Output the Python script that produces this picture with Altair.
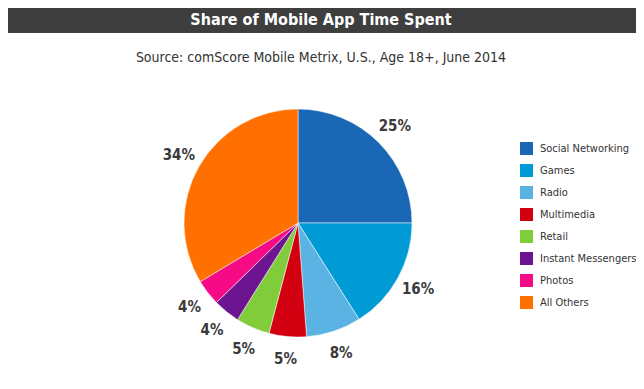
import altair as alt
import pandas as pd

categories = ["Social Networking", "Games", "Radio", "Multimedia", "Retail",
              "Instant Messengers", "Photos", "All Others"]
shares = [25.0, 16.0, 7.8, 5.3, 4.8, 3.8, 3.7, 33.6]
labels = ["25%", "16%", "8%", "5%", "5%", "4%", "4%", "34%"]
colors = ["#1a67b5", "#009ad4", "#5ab3e2", "#d20010", "#80cc3a",
          "#6d1591", "#f70a85", "#ff7000"]

title_text = "Share of Mobile App Time Spent"
subtitle_text = "Source: comScore Mobile Metrix, U.S., Age 18+, June 2014"

FONT = "DejaVu Sans Condensed, Roboto, sans-serif"

df = pd.DataFrame({
    "category": categories,
    "share": shares,
    "label": labels,
    "order": list(range(len(categories))),
})

W, H = 628, 373
cx, cy = 290, 215

base = alt.Chart(df).encode(
    theta=alt.Theta("share:Q", stack=True),
    order=alt.Order("order:Q"),
)

color_enc = alt.Color(
    "category:N",
    scale=alt.Scale(domain=categories, range=colors),
    sort=categories,
    legend=alt.Legend(
        title=None, orient="none", legendX=512, legendY=134,
        symbolType="square", symbolSize=169, symbolStrokeWidth=0,
        labelFont=FONT, labelFontSize=11, labelColor="#333333",
        rowPadding=9, labelOffset=7, symbolOpacity=1, labelLimit=200,
    ),
)

pie = base.mark_arc(outerRadius=114, stroke="white", strokeWidth=0.5).encode(
    color=color_enc,
    x=alt.value(cx), y=alt.value(cy),
)

text = base.mark_text(
    radius=137, font=FONT, fontSize=15, fontWeight="bold", color="#3a3a3a"
).encode(
    text="label:N",
    x=alt.value(cx), y=alt.value(cy),
)

bar = alt.Chart(pd.DataFrame({"t": [title_text]})).mark_rect(color="#3e3e3e").encode(
    x=alt.value(0), x2=alt.value(W), y=alt.value(0), y2=alt.value(25)
)
title = alt.Chart(pd.DataFrame({"t": [title_text]})).mark_text(
    font=FONT, fontSize=16, fontWeight="bold", color="white", baseline="middle"
).encode(x=alt.value(313), y=alt.value(12), text="t:N")
subtitle = alt.Chart(pd.DataFrame({"t": [subtitle_text]})).mark_text(
    font=FONT, fontSize=14, color="#333333", baseline="middle"
).encode(x=alt.value(313), y=alt.value(50), text="t:N")

chart = alt.layer(bar, title, subtitle, pie, text).properties(
    width=W, height=H, padding=0,
    autosize=alt.AutoSizeParams(type="none"),
).configure_view(stroke=None)

chart.save("out.html", embed_options={"renderer": "svg", "actions": False})
